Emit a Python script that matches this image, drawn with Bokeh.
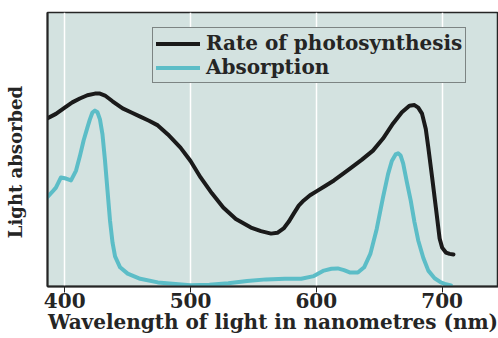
from bokeh.plotting import figure
from bokeh.models import Range1d, FixedTicker, Legend, LegendItem
from bokeh.embed import file_html
from bokeh.resources import INLINE

# Rate of photosynthesis (relative units, 0-100)
rate_nm = [386, 393, 400, 406, 412, 418, 424, 428, 432, 438, 446, 453, 460, 467, 474, 482, 492,
           500, 508, 517, 526, 536, 548, 556, 564, 569, 574, 578, 582, 586, 590, 595, 601, 607,
           614, 620, 627, 636, 645, 653, 661, 668, 674, 678, 681, 684, 687, 689, 692, 695, 698,
           700, 703, 706, 709]
rate_val = [61.3, 63.0, 65.3, 67.2, 68.6, 69.8, 70.4, 70.4, 69.7, 67.6, 65.0, 63.5, 62.0, 60.5, 58.8,
            55.5, 50.7, 45.8, 39.8, 34.0, 28.8, 24.6, 21.5, 20.2, 19.3, 19.6, 21.2, 23.6, 26.6,
            29.5, 31.4, 33.3, 35.0, 36.7, 38.7, 40.7, 43.1, 46.2, 49.6, 54.0, 59.5, 63.6, 66.0,
            66.2, 65.3, 63.1, 57.5, 50.7, 40.0, 28.8, 17.5, 14.2, 12.4, 11.9, 11.7]

# Absorption (relative units, 0-100)
abs_nm = [386, 390, 393, 397, 401, 405, 409, 412, 415, 418, 420, 422, 424, 426, 428, 430, 432, 434,
          436, 438, 440, 444, 450, 460, 474, 488, 500, 515, 530, 545, 560, 575, 588, 598, 606, 612,
          617, 622, 627, 633, 638, 643, 648, 653, 657, 660, 663, 665, 667, 669, 672, 675, 678,
          681, 685, 689, 694, 699, 703, 707]
abs_val = [32.5, 34.5, 36.1, 39.8, 39.4, 38.7, 42.3, 47.5, 53.3, 58.0, 61.0, 63.5, 64.2, 63.6, 61.0,
           55.5, 46.0, 35.0, 24.0, 16.0, 11.0, 7.0, 4.7, 2.8, 1.5, 0.9, 0.5, 0.6, 1.2, 2.0, 2.6,
           2.8, 2.8, 3.8, 5.8, 6.5, 6.6, 6.0, 5.1, 5.1, 7.0, 12.0, 21.0, 32.5, 41.0, 45.8, 48.2,
           48.6, 47.8, 44.9, 38.0, 31.4, 23.5, 16.8, 10.5, 5.8, 3.0, 1.5, 0.8, 0.4]

x_ticks = [400, 500, 600, 700]

SERIF = "DejaVu Serif"
BG = "#d3e2e0"
INK = "#252525"

p = figure(width=498, height=338, output_backend="svg", toolbar_location=None,
           x_range=Range1d(386.3, 744.8), y_range=Range1d(0, 100),
           min_border_left=47, min_border_right=0, min_border_top=12, min_border_bottom=52)

p.background_fill_color = BG
p.border_fill_color = "white"
p.outline_line_color = INK
p.outline_line_width = 1.5

p.xgrid.ticker = FixedTicker(ticks=x_ticks)
p.xgrid.grid_line_color = "white"
p.xgrid.grid_line_width = 1.5
p.ygrid.grid_line_color = None

p.xaxis.ticker = FixedTicker(ticks=x_ticks)
p.xaxis.axis_label = "Wavelength of light in nanometres (nm)"
p.xaxis.axis_line_color = INK
p.xaxis.axis_line_width = 2
p.xaxis.major_tick_line_color = INK
p.xaxis.major_tick_out = 6
p.xaxis.major_tick_in = 0
p.xaxis.minor_tick_line_color = None
p.xaxis.major_label_text_font = SERIF
p.xaxis.major_label_text_font_size = "20px"
p.xaxis.major_label_text_font_style = "bold"
p.xaxis.major_label_text_color = INK
p.xaxis.major_label_standoff = 0
p.xaxis.axis_label_text_font = SERIF
p.xaxis.axis_label_text_font_size = "20px"
p.xaxis.axis_label_text_font_style = "bold"
p.xaxis.axis_label_text_color = INK
p.xaxis.axis_label_standoff = -1

p.yaxis.ticker = FixedTicker(ticks=[])
p.yaxis.axis_label = "Light absorbed\u00a0\u00a0\u00a0\u00a0"
p.yaxis.axis_line_color = INK
p.yaxis.axis_line_width = 2
p.yaxis.major_tick_line_color = None
p.yaxis.minor_tick_line_color = None
p.yaxis.axis_label_text_font = SERIF
p.yaxis.axis_label_text_font_size = "18px"
p.yaxis.axis_label_text_font_style = "bold"
p.yaxis.axis_label_text_color = INK
p.yaxis.axis_label_standoff = 22

r_rate = p.line(rate_nm, rate_val, line_color="#1a1a1a", line_width=4, line_join="round", line_cap="round")
r_abs = p.line(abs_nm, abs_val, line_color="#5cbdc7", line_width=4, line_join="round", line_cap="round")

legend = Legend(items=[LegendItem(label="Rate of photosynthesis", renderers=[r_rate]),
                       LegendItem(label="Absorption", renderers=[r_abs])],
                location=(105, 203), orientation="vertical")
legend.background_fill_color = BG
legend.background_fill_alpha = 1
legend.border_line_color = INK
legend.border_line_width = 1.5
legend.label_text_font = SERIF
legend.label_text_font_size = "20px"
legend.label_text_font_style = "bold"
legend.label_text_color = INK
legend.glyph_width = 44
legend.glyph_height = 21
legend.label_height = 21
legend.label_standoff = 6
legend.spacing = 0
legend.padding = 3
legend.margin = 0
p.add_layout(legend, "center")

open("out.html", "w").write(file_html(p, INLINE))
